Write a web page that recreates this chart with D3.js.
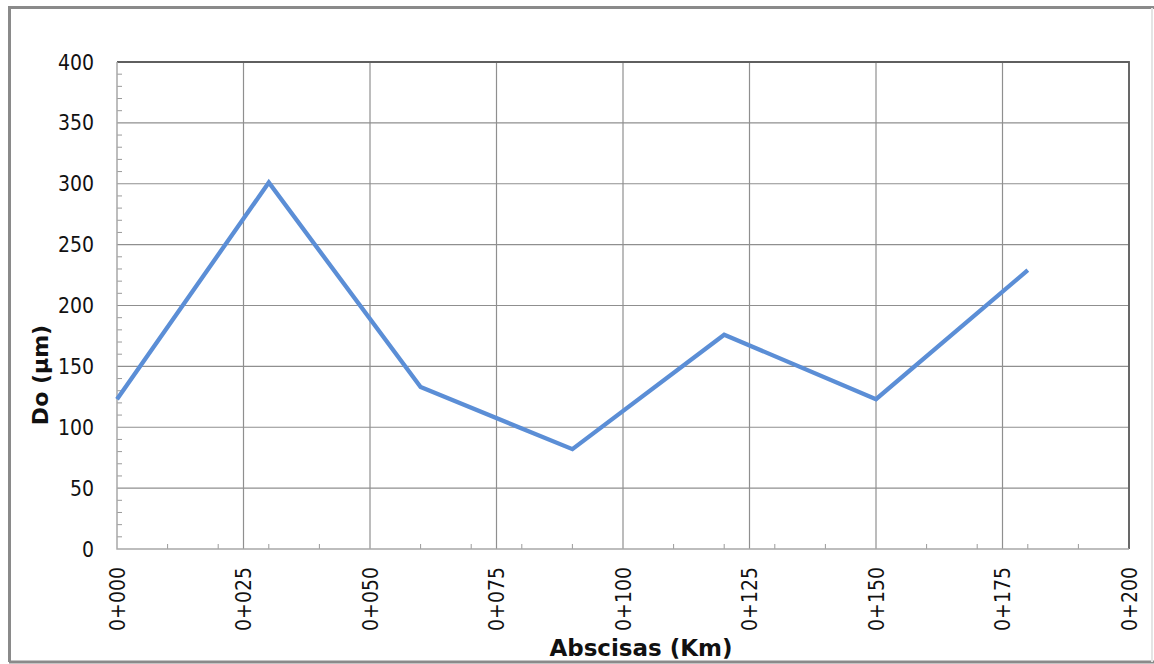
<!DOCTYPE html>
<html><head><meta charset="utf-8">
<script src="https://cdn.jsdelivr.net/npm/d3@7"></script>
<style>html,body{margin:0;padding:0;background:#fff}svg{display:block}</style>
</head><body>
<svg id="chart" width="1154" height="664"></svg>
<script>
const abscisas = [0, 30, 60, 90, 120, 150, 180];
const doValues = [123, 301, 133, 82, 176, 123, 229];
const xTicks = [0, 25, 50, 75, 100, 125, 150, 175, 200];
const xTickLabels = ["0+000","0+025","0+050","0+075","0+100","0+125","0+150","0+175","0+200"];
const yTicks = [0, 50, 100, 150, 200, 250, 300, 350, 400];
const xTitle = "Abscisas (Km)";
const yTitle = "Do (µm)";

const svg = d3.select("#chart");
const L = 117, R = 1129, T = 62, B = 549;
const x = d3.scaleLinear().domain([0, 200]).range([L, R]);
const y = d3.scaleLinear().domain([0, 400]).range([B, T]);
const font = "'DejaVu Sans Condensed', 'DejaVu Sans', Verdana, sans-serif";
const fontBold = "'DejaVu Sans', Verdana, sans-serif";

// outer frame
svg.append("path").attr("d", `M9.5,662 L9.5,7.5 L1154,7.5`).attr("fill","none").attr("stroke","#8a8a8a").attr("stroke-width",3);
svg.append("line").attr("x1",9).attr("x2",1154).attr("y1",662).attr("y2",662).attr("stroke","#8a8a8a").attr("stroke-width",3);
svg.append("line").attr("x1",1152).attr("x2",1152).attr("y1",8).attr("y2",662).attr("stroke","#e4e4e4").attr("stroke-width",2);

// gridlines
svg.append("g").selectAll("line").data(yTicks.slice(1)).join("line")
  .attr("x1", L).attr("x2", R).attr("y1", d => y(d)).attr("y2", d => y(d))
  .attr("stroke", "#8f8f8f").attr("stroke-width", 1.2);
svg.append("g").selectAll("line").data(xTicks.slice(1)).join("line")
  .attr("x1", d => x(d)).attr("x2", d => x(d)).attr("y1", T).attr("y2", B)
  .attr("stroke", "#8f8f8f").attr("stroke-width", 1.2);

// minor ticks
const yMinor = d3.range(0, 401, 10).filter(v => v % 50 !== 0);
svg.append("g").selectAll("line").data(yMinor).join("line")
  .attr("x1", L).attr("x2", L + 5).attr("y1", d => y(d)).attr("y2", d => y(d))
  .attr("stroke", "#9a9a9a").attr("stroke-width", 1);
const xMinor = d3.range(0, 201, 10).filter(v => v % 25 !== 0);
svg.append("g").selectAll("line").data(xMinor).join("line")
  .attr("x1", d => x(d)).attr("x2", d => x(d)).attr("y1", B).attr("y2", B - 5)
  .attr("stroke", "#9a9a9a").attr("stroke-width", 1);

// plot frame
svg.append("path").attr("d", `M${L},${T} L${R},${T} L${R},${B}`).attr("fill","none").attr("stroke","#5f5f5f").attr("stroke-width",1.8);
svg.append("path").attr("d", `M${L},${T} L${L},${B} L${R},${B}`).attr("fill","none").attr("stroke","#a8a8a8").attr("stroke-width",1.5);

// y labels
svg.append("g").selectAll("text").data(yTicks).join("text")
  .attr("x", 94).attr("y", d => y(d)).attr("dy", "0.36em")
  .attr("text-anchor", "end").attr("font-family", font).attr("font-size", 21).attr("fill", "#111")
  .text(d => d);

// x labels
svg.append("g").selectAll("text").data(xTicks).join("text")
  .attr("transform", d => `translate(${x(d)},567) rotate(-90)`)
  .attr("dy", "0.36em").attr("text-anchor", "end")
  .attr("font-family", font).attr("font-size", 21).attr("fill", "#111")
  .text((d, i) => xTickLabels[i]);

// titles
svg.append("text").attr("x", 641).attr("y", 656).attr("text-anchor", "middle")
  .attr("font-family", fontBold).attr("font-weight", "bold").attr("font-size", 23).attr("fill", "#111")
  .text(xTitle);
svg.append("text").attr("transform", "translate(48,375) rotate(-90)").attr("text-anchor", "middle")
  .attr("font-family", fontBold).attr("font-weight", "bold").attr("font-size", 22).attr("fill", "#111")
  .text(yTitle);

// line
const line = d3.line().x((d, i) => x(abscisas[i])).y(d => y(d));
svg.append("path").datum(doValues).attr("d", line)
  .attr("fill", "none").attr("stroke", "#5b8ed6").attr("stroke-width", 4.3).attr("stroke-linejoin", "miter");
</script>
</body></html>
